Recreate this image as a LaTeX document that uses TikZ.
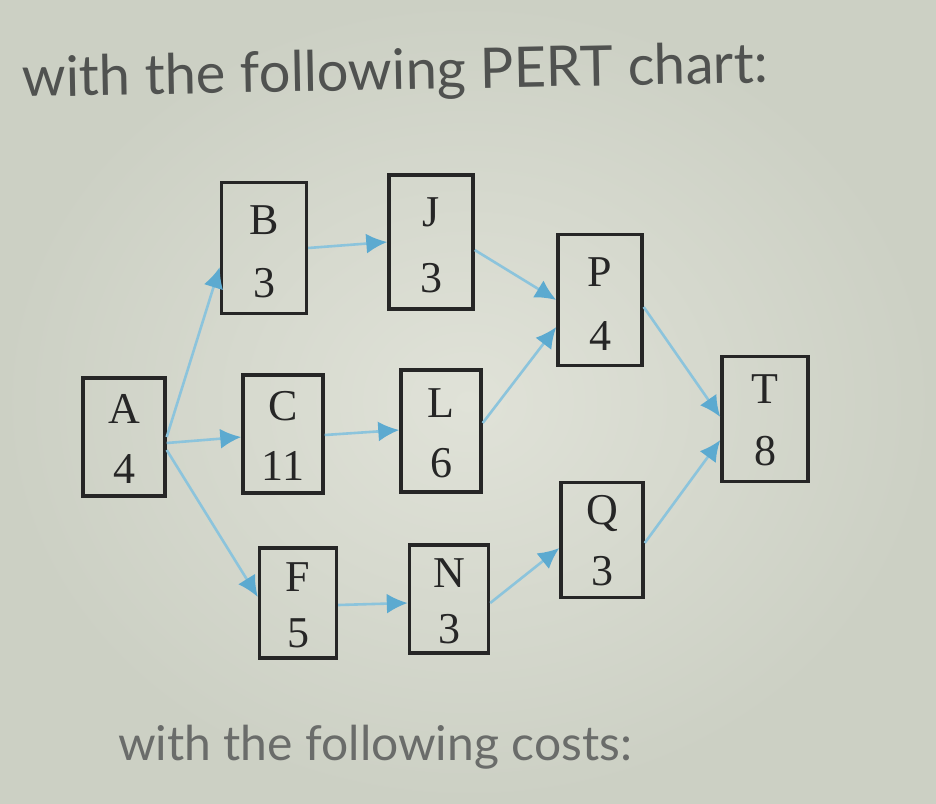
\documentclass[tikz,border=0pt]{standalone}
\usepackage{fontspec}
\setmainfont{Liberation Serif}
\newfontfamily\titlefont{Lato}
\usetikzlibrary{arrows.meta}
\definecolor{bgin}{RGB}{224,226,216}
\definecolor{bgout}{RGB}{204,208,196}
\definecolor{arr}{RGB}{140,196,220}
\definecolor{arrhead}{RGB}{92,170,208}
\definecolor{ink}{RGB}{38,38,38}
\definecolor{ttl}{RGB}{80,82,80}
\tikzset{
  box/.style={draw=ink, line width=3.4pt, rectangle, inner sep=0pt},
  lbl/.style={font=\fontsize{44}{44}\selectfont, text=ink, inner sep=0pt, anchor=center},
  conn/.style={draw=arr, line width=2.6pt, -{Latex[length=21pt,width=20pt,fill=arrhead,color=arrhead]}},
  ttlstyle/.style={font=\titlefont\fontsize{56}{56}\selectfont, text=ttl, inner sep=0pt, anchor=base west}
}
\begin{document}
\begin{tikzpicture}[x=1pt,y=-1pt]
\useasboundingbox (0,0) rectangle (936,803);
\shade[inner color=bgin, outer color=bgout] (0,0) rectangle (936,803);
% title
\node[ttlstyle, rotate=1.1] (title) at (22,97) {with the following PERT chart:};
\node[ttlstyle, font=\titlefont\fontsize{48}{48}\selectfont, text=ttl!85] (costs) at (118,760) {with the following costs:};
% boxes
\node[box, minimum width=82pt, minimum height=118pt] (A) at (124,437) {};
\node[box, minimum width=85pt, minimum height=131pt] (B) at (264,248) {};
\node[box, minimum width=80pt, minimum height=118pt] (C) at (283,434) {};
\node[box, minimum width=77pt, minimum height=110pt] (F) at (298,603) {};
\node[box, minimum width=84pt, minimum height=134pt] (J) at (431,242) {};
\node[box, minimum width=80pt, minimum height=122pt] (L) at (441,431) {};
\node[box, minimum width=79pt, minimum height=108pt] (N) at (449,599) {};
\node[box, minimum width=84pt, minimum height=131pt] (P) at (600,300) {};
\node[box, minimum width=82pt, minimum height=115pt] (Q) at (602,540) {};
\node[box, minimum width=86pt, minimum height=125pt] (T) at (765,419) {};
% labels
\node[lbl] (A1) at ([yshift=28pt]A.center) {A};
\node[lbl] (A2) at ([yshift=-32pt]A.center) {4};
\node[lbl] (B1) at ([yshift=28pt]B.center) {B};
\node[lbl] (B2) at ([yshift=-35pt]B.center) {3};
\node[lbl] (C1) at ([yshift=28pt]C.center) {C};
\node[lbl] (C2) at ([yshift=-32pt]C.center) {11};
\node[lbl] (F1) at ([yshift=26pt]F.center) {F};
\node[lbl] (F2) at ([yshift=-30pt]F.center) {5};
\node[lbl] (J1) at ([yshift=30pt]J.center) {J};
\node[lbl] (J2) at ([yshift=-36pt]J.center) {3};
\node[lbl] (L1) at ([yshift=28pt]L.center) {L};
\node[lbl] (L2) at ([yshift=-32pt]L.center) {6};
\node[lbl] (N1) at ([yshift=26pt]N.center) {N};
\node[lbl] (N2) at ([yshift=-30pt]N.center) {3};
\node[lbl] (P1) at ([yshift=28pt]P.center) {P};
\node[lbl] (P2) at ([yshift=-36pt]P.center) {4};
\node[lbl] (Q1) at ([yshift=27pt]Q.center) {Q};
\node[lbl] (Q2) at ([yshift=-31pt]Q.center) {3};
\node[lbl] (T1) at ([yshift=30pt]T.center) {T};
\node[lbl] (T2) at ([yshift=-32pt]T.center) {8};
% connectors
\draw[conn] (A.east) -- ([yshift=-19pt]B.west);
\draw[conn] ([yshift=-6pt]A.east) -- ([yshift=-3pt]C.west);
\draw[conn] ([yshift=-13pt]A.east) -- ([yshift=6pt]F.west);
\draw[conn] (B.east) -- (J.west);
\draw[conn] ([yshift=-1pt]C.east) -- ([yshift=1pt]L.west);
\draw[conn] ([yshift=-2pt]F.east) -- ([yshift=-4pt]N.west);
\draw[conn] ([yshift=-8pt]J.east) -- (P.west);
\draw[conn] ([yshift=8pt]L.east) -- ([yshift=-27pt]P.west);
\draw[conn] ([yshift=-4pt]N.east) -- ([yshift=-8pt]Q.west);
\draw[conn] ([yshift=-7pt]P.east) -- ([yshift=2pt]T.west);
\draw[conn] ([yshift=-3pt]Q.east) -- ([yshift=-21pt]T.west);
\end{tikzpicture}
\end{document}
